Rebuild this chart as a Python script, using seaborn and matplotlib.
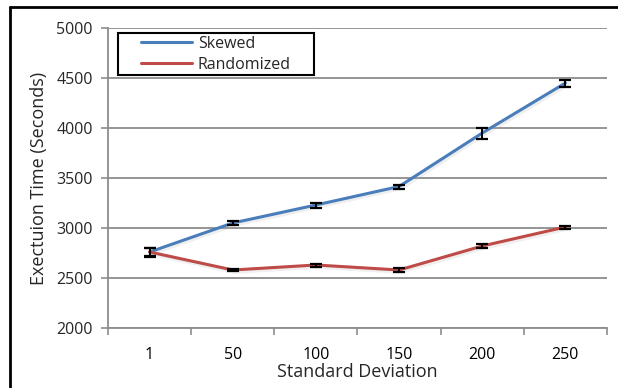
import matplotlib
matplotlib.use("Agg")
import matplotlib.pyplot as plt
import matplotlib.patheffects as pe
from matplotlib.lines import Line2D
from matplotlib.patches import Rectangle
import numpy as np
import pandas as pd
import seaborn as sns

# Data
std_devs = ["1", "50", "100", "150", "200", "250"]
skewed = [2760, 3050, 3230, 3415, 3950, 4450]
skewed_err = [45, 20, 25, 20, 55, 35]
randomized = [2760, 2580, 2630, 2580, 2820, 3010]
randomized_err = [40, 10, 15, 20, 20, 15]
y_ticks = [2000, 2500, 3000, 3500, 4000, 4500, 5000]

sns.set_theme(style="white")
plt.rcParams["font.family"] = ["Open Sans", "DejaVu Sans"]

BLUE = "#4A7EBB"
RED = "#BE4B48"
GRID = "#8C8C8C"

fig = plt.figure(figsize=(6.18, 3.88), dpi=100)
ax = fig.add_axes([108 / 618, 1 - 328 / 388, 499 / 618, 300 / 388])

pos = np.arange(len(std_devs))
df = pd.DataFrame({
    "x": np.concatenate([pos, pos]),
    "time": skewed + randomized,
    "series": ["Skewed"] * len(pos) + ["Randomized"] * len(pos),
})

shadow = [pe.SimpleLineShadow(offset=(1.0, -1.0), shadow_color="#b0b0b0", alpha=0.2, linewidth=3.5), pe.Normal()]

sns.lineplot(data=df, x="x", y="time", hue="series", hue_order=["Skewed", "Randomized"],
             palette=[BLUE, RED], linewidth=2.2, ax=ax, legend=False, zorder=3)
for line in ax.get_lines():
    line.set_path_effects(shadow)

ax.errorbar(pos, skewed, yerr=skewed_err, fmt="none", ecolor="black", elinewidth=1.4,
            capsize=4, capthick=1.6, zorder=4)
ax.errorbar(pos, randomized, yerr=randomized_err, fmt="none", ecolor="black", elinewidth=1.4,
            capsize=4, capthick=1.6, zorder=4)

ax.set_xlim(-0.5, len(std_devs) - 0.5)
ax.set_ylim(2000, 5000)
ax.set_yticks(y_ticks)
ax.set_yticklabels([str(v) for v in y_ticks], fontsize=11.5)
ax.set_xticks(pos)
ax.set_xticklabels(std_devs, fontsize=11.5)
ax.set_xticks(np.arange(-0.5, len(std_devs)), minor=True)

ax.grid(axis="y", color=GRID, linewidth=1.3, zorder=0)
ax.grid(axis="x", visible=False)
for side in ["top", "right"]:
    ax.spines[side].set_visible(False)
for side in ["left", "bottom"]:
    ax.spines[side].set_color(GRID)
    ax.spines[side].set_linewidth(1.3)

ax.tick_params(axis="x", which="major", length=0, pad=14, colors="black")
ax.tick_params(axis="x", which="minor", length=5, width=1.2, color=GRID, bottom=True)
ax.tick_params(axis="y", which="major", length=5, width=1.2, color=GRID, left=True, pad=6)

ax.set_xlabel("Standard Deviation", fontsize=13, labelpad=0)
ax.set_ylabel("Exectuion Time (Seconds)", fontsize=13, labelpad=6)

# legend: entries without frame, boxed by a separate rectangle
handles = [Line2D([], [], color=BLUE, lw=2.2), Line2D([], [], color=RED, lw=2.2)]
leg = ax.legend(handles, ["Skewed", "Randomized"], loc="upper left",
                bbox_to_anchor=(33 / 499, 1 - 8 / 300), fontsize=11.5, frameon=False,
                handlelength=3.2, handletextpad=0.35, borderpad=0.0,
                labelspacing=0.3, borderaxespad=0)
ax.add_patch(Rectangle((10 / 499, 1 - 47 / 300), 196 / 499, 42 / 300, transform=ax.transAxes,
                       fill=False, edgecolor="black", lw=1.5, zorder=5, clip_on=False))

# outer chart frame
fig.add_artist(Line2D([10 / 618, 1], [1 - 7 / 388, 1 - 7 / 388], transform=fig.transFigure,
                      color="black", lw=2))
fig.add_artist(Line2D([10 / 618, 10 / 618], [0, 1 - 7 / 388], transform=fig.transFigure,
                      color="black", lw=2))

fig.savefig("out.png", dpi=100, facecolor="white")
